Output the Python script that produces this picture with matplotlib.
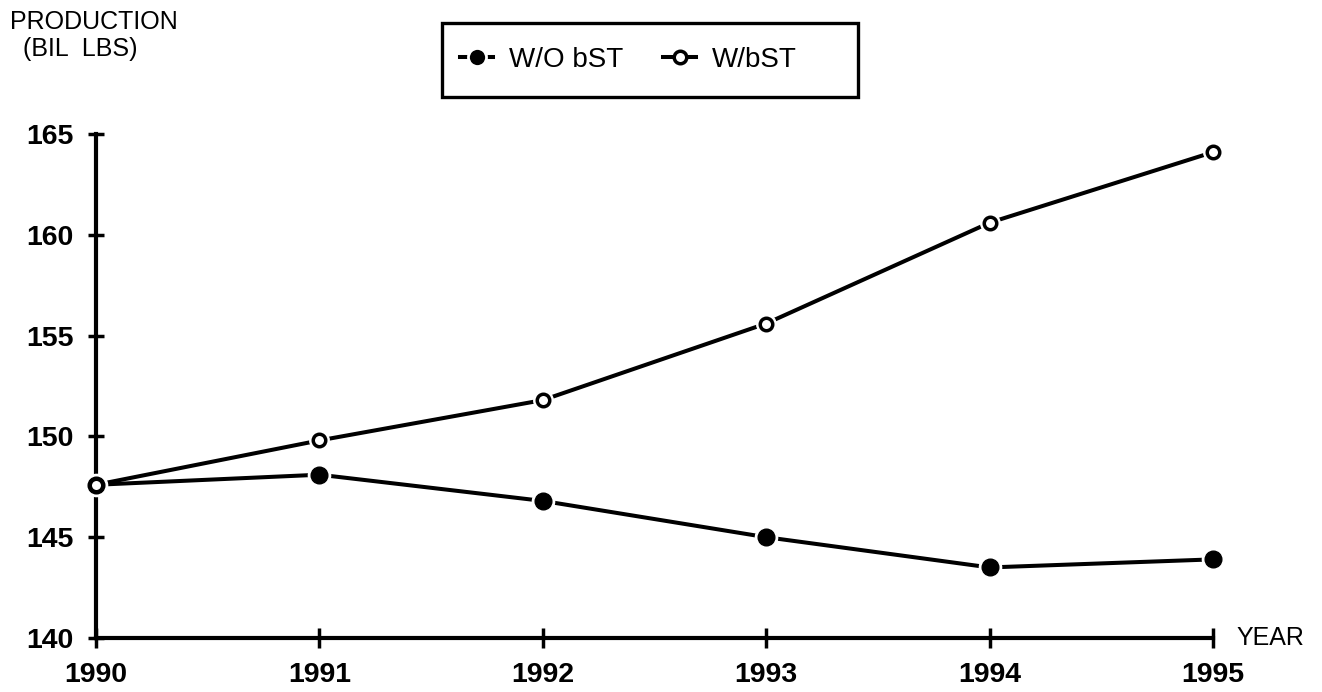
import matplotlib
matplotlib.use("Agg")
import matplotlib.pyplot as plt
from matplotlib.lines import Line2D
from matplotlib.patches import Rectangle

plt.rcParams['font.family'] = ['Liberation Sans', 'DejaVu Sans']

# data (billion lbs)
years = [1990, 1991, 1992, 1993, 1994, 1995]
without_bst = [147.6, 148.1, 146.8, 145.0, 143.5, 143.9]
with_bst = [147.6, 149.8, 151.8, 155.6, 160.6, 164.1]
series_labels = ['W/O bST', 'W/bST']
y_ticks = [140, 145, 150, 155, 160, 165]

W, H = 1322, 692
fig = plt.figure(figsize=(W / 100, H / 100), dpi=100)
ax = fig.add_axes([96 / W, 1 - 638 / H, (1213 - 96) / W, (638 - 134) / H])

lw = 2.9
# W/O bST: filled circles with a white halo so the line breaks around them
ax.plot(years, without_bst, color='black', lw=lw, zorder=2, clip_on=False)
ax.plot(years, without_bst, 'o', ms=16, color='white', zorder=3, clip_on=False)
ax.plot(years, without_bst, 'o', ms=12, color='black', zorder=4, clip_on=False)

# W/bST: open circles
ax.plot(years, with_bst, color='black', lw=lw, zorder=2, clip_on=False)
ax.plot(years, with_bst, 'o', ms=14, color='white', zorder=3, clip_on=False)
ax.plot(years, with_bst, 'o', ms=9, mfc='white', mec='black', mew=2.5,
        zorder=4, clip_on=False)

ax.set_xlim(1990, 1995)
ax.set_ylim(140, 165)
ax.set_xticks(years)
ax.set_yticks(y_ticks)

for side in ['top', 'right']:
    ax.spines[side].set_visible(False)
for side in ['left', 'bottom']:
    ax.spines[side].set_linewidth(3)

ax.tick_params(axis='x', direction='inout', length=14, width=2.5, pad=10)
ax.tick_params(axis='y', direction='inout', length=12, width=2.5, pad=10)
for lab in ax.get_xticklabels() + ax.get_yticklabels():
    lab.set_fontsize(20.5)
    lab.set_fontweight('bold')

ax.annotate('YEAR', xy=(1, 0), xycoords='axes fraction', xytext=(17, 0),
            textcoords='offset points', ha='left', va='center', fontsize=18)

fig.text(10 / W, 1 - 22 / H, 'PRODUCTION', ha='left', va='center', fontsize=18)
fig.text(23 / W, 1 - 49 / H, '(BIL  LBS)', ha='left', va='center', fontsize=18)

# legend
handles = [
    Line2D([], [], color='black', lw=lw, marker='o', ms=13, mfc='black',
           mec='white', mew=2),
    Line2D([], [], color='black', lw=lw, marker='o', ms=9, mfc='white',
           mec='black', mew=2.5),
]
leg = fig.legend(handles, series_labels, loc='center left',
                 bbox_to_anchor=(460 / W, 1 - 60 / H), ncol=2, frameon=False,
                 fontsize=20, borderpad=0, borderaxespad=0, handlelength=1.2,
                 handletextpad=0.55, columnspacing=1.45)
fig.add_artist(Rectangle((442 / W, 1 - 97 / H), 416 / W, 74 / H,
                         transform=fig.transFigure, fill=False, lw=2.4,
                         ec='black'))

fig.savefig('out.png', dpi=100)
